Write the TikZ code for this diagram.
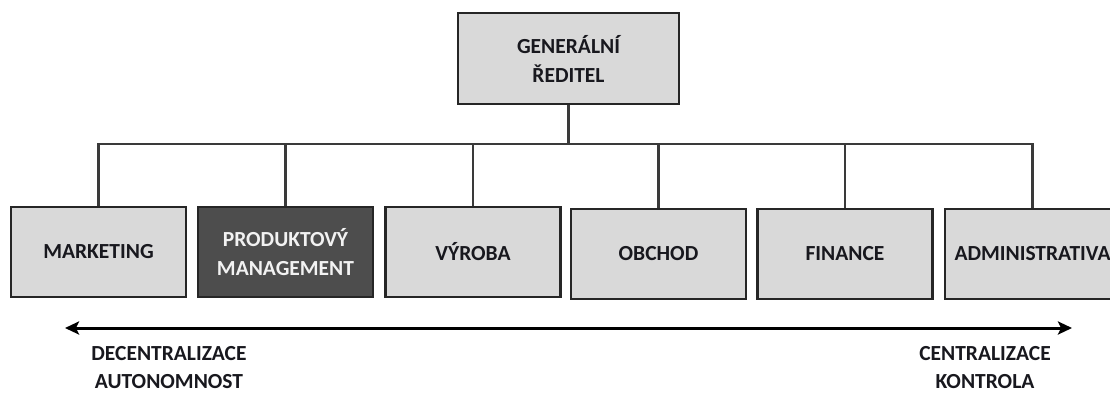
\documentclass[tikz,border=0pt]{standalone}
\usepackage{fontspec}
\setmainfont{Carlito}
\usetikzlibrary{arrows.meta}
\definecolor{boxgray}{HTML}{D9D9D9}
\definecolor{darkbox}{HTML}{4D4D4D}
\definecolor{txt}{HTML}{18181E}
\definecolor{linegray}{HTML}{3A3A3A}
\tikzset{
  unit/.style={draw=black!85, line width=2.1pt, fill=boxgray, minimum width=175pt, minimum height=90pt,
    inner sep=0pt, align=center, text=txt, font=\bfseries\fontsize{21.5}{29}\selectfont},
  topunit/.style={unit, minimum width=221pt, minimum height=91pt},
  darkunit/.style={unit, fill=darkbox, text=white!95!black},
  conn/.style={draw=linegray, line width=2.2pt},
  axis/.style={draw=black, line width=3pt, {Stealth[length=14pt,width=13pt,inset=3pt]}-{Stealth[length=14pt,width=13pt,inset=3pt]}},
  lbl/.style={align=center, text=txt, inner sep=0pt, font=\bfseries\fontsize{21.5}{28}\selectfont}
}
\begin{document}
\begin{tikzpicture}[x=1pt,y=-1pt]
\clip (0,0) rectangle (1110,394);
\node[topunit] (gr) at (568.5,58.5) {GENERÁLNÍ\\ŘEDITEL};
\node[unit] (mkt) at (98.5,252) {MARKETING};
\node[darkunit] (pm) at (285.5,252) {PRODUKTOVÝ\\MANAGEMENT};
\node[unit] (vyr) at (473,252) {VÝROBA};
\node[unit] (obc) at (658.5,254) {OBCHOD};
\node[unit] (fin) at (845,254) {FINANCE};
\node[unit] (adm) at (1032.5,254) {ADMINISTRATIVA};
\coordinate (bus) at (568,144);
\draw[conn] (gr.south) -- (gr.south |- bus);
\draw[conn] (mkt.north) -- (mkt.north |- bus) -- (adm.north |- bus) -- (adm.north);
\foreach \n in {pm,vyr,obc,fin}{\draw[conn] (\n.north) -- (\n.north |- bus);}
\coordinate (al) at (65,328);
\coordinate (ar) at (1072,328);
\draw[axis] (al) -- (ar);
\node[lbl] (dec) at (169,367.5) {DECENTRALIZACE\\AUTONOMNOST};
\node[lbl] (cen) at (985,367.5) {CENTRALIZACE\\KONTROLA};
\end{tikzpicture}
\end{document}
